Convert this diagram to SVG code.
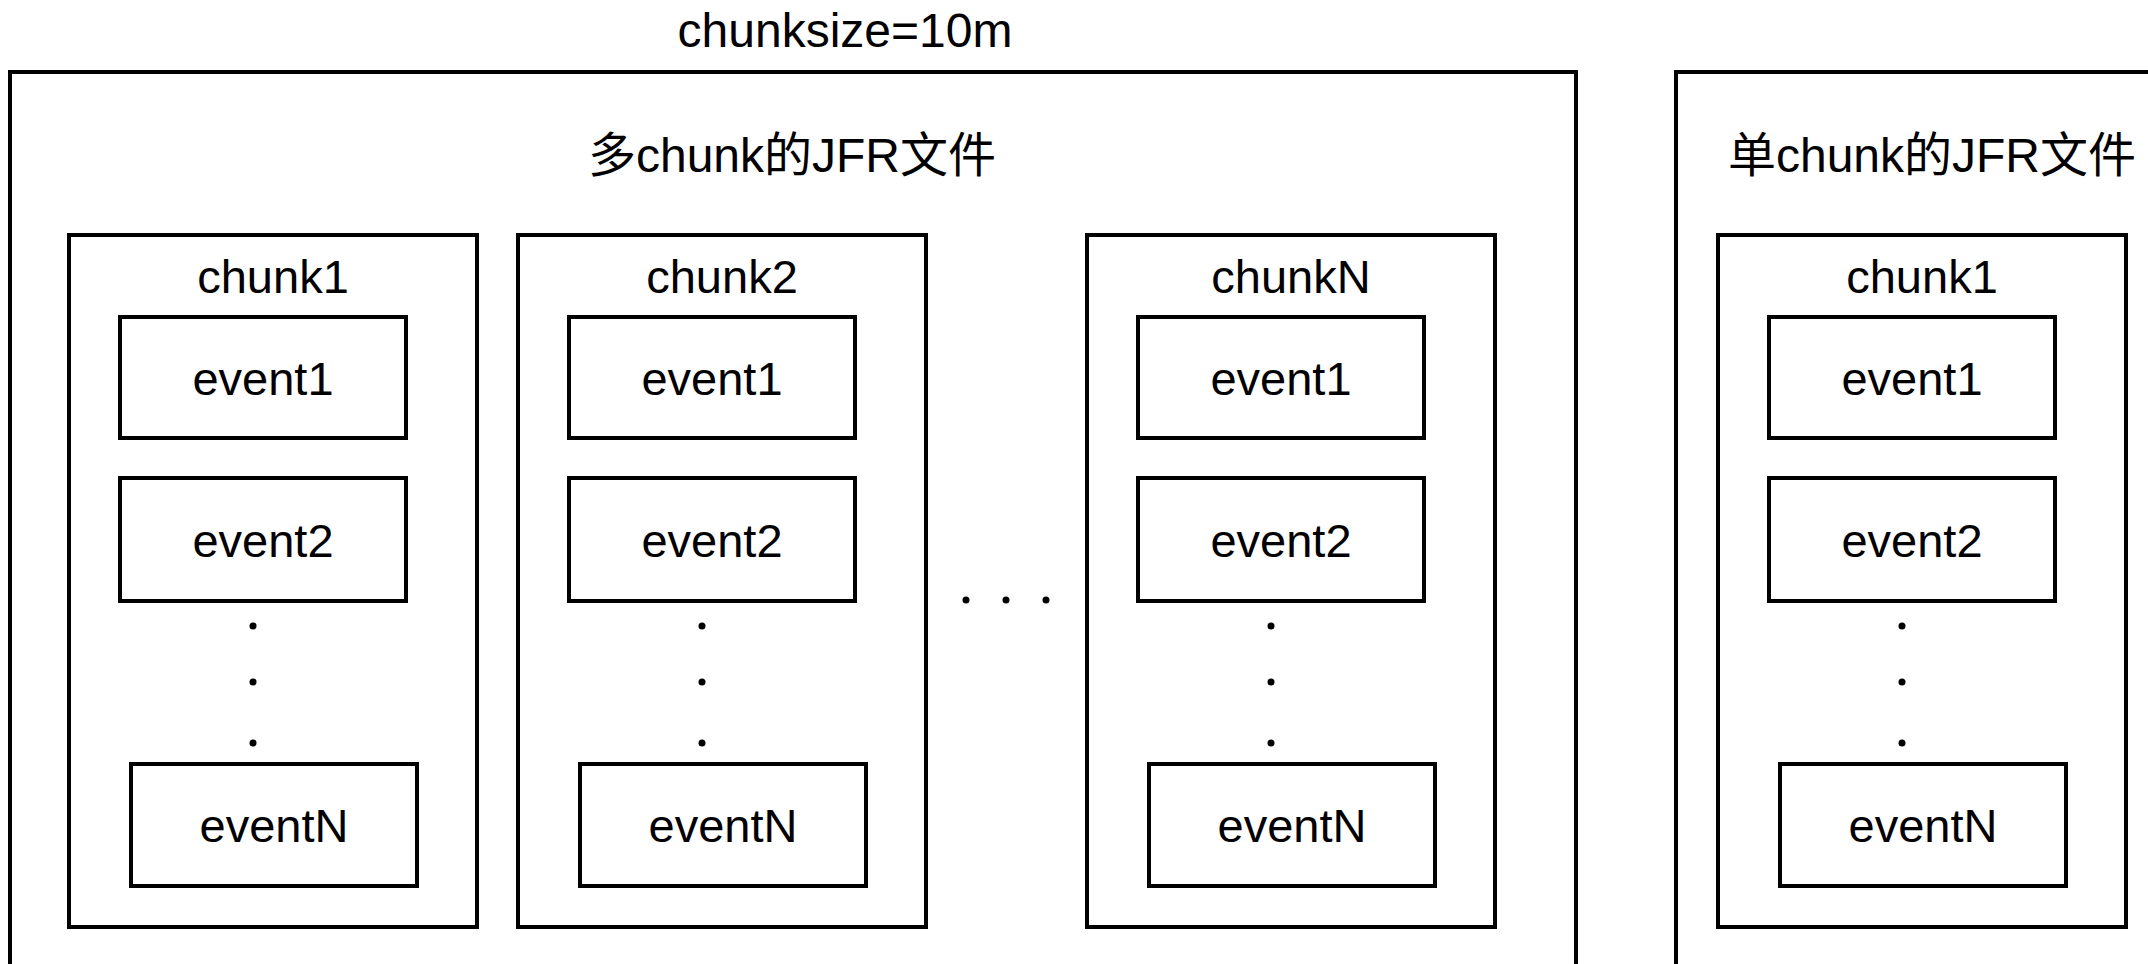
<svg xmlns="http://www.w3.org/2000/svg" width="2148" height="964" viewBox="0 0 2148 964">
  <style>
    .box { fill: #ffffff; stroke: #000000; stroke-width: 4; }
    .lbl { font-family: "Liberation Sans", Arial, "Noto Sans CJK SC", sans-serif; font-size: 47px; fill: #000000; text-anchor: middle; }
    .ttl { font-family: "Liberation Sans", Arial, "Noto Sans CJK SC", sans-serif; font-size: 48px; fill: #000000; text-anchor: middle; }
    .dot { fill: #000000; }
  </style>
  <defs>
    <!-- one chunk: frame, title, two events, ellipsis dots, last event -->
    <g id="chunkBody">
      <rect class="box" x="0" y="0" width="408" height="692"/>
      <rect class="box" x="51" y="82" width="286" height="121"/>
      <text class="lbl" x="194" y="160">event1</text>
      <rect class="box" x="51" y="243" width="286" height="123"/>
      <text class="lbl" x="194" y="322">event2</text>
      <circle class="dot" cx="184" cy="391" r="3.5"/>
      <circle class="dot" cx="184" cy="447" r="3.5"/>
      <circle class="dot" cx="184" cy="508" r="3.5"/>
      <rect class="box" x="62" y="529" width="286" height="122"/>
      <text class="lbl" x="205" y="607">eventN</text>
    </g>
  </defs>
  <rect x="0" y="0" width="2148" height="964" fill="#ffffff"/>

  <text id="chunksize" class="ttl" x="845" y="47">chunksize=10m</text>

  <g id="multi-chunk-file">
    <rect class="box" x="10" y="72" width="1566" height="940"/>
    <text class="ttl" x="792" y="172">多chunk的JFR文件</text>
  </g>

  <g id="single-chunk-file">
    <rect class="box" x="1676" y="72" width="560" height="940"/>
    <text class="ttl" x="1932" y="172">单chunk的JFR文件</text>
  </g>

  <g id="multi-chunk1" transform="translate(69,235)">
    <use href="#chunkBody"/>
    <text class="lbl" x="204" y="58">chunk1</text>
  </g>

  <g id="multi-chunk2" transform="translate(518,235)">
    <use href="#chunkBody"/>
    <text class="lbl" x="204" y="58">chunk2</text>
  </g>

  <g id="multi-chunk-gap">
    <circle class="dot" cx="966" cy="600" r="3.5"/>
    <circle class="dot" cx="1006" cy="600" r="3.5"/>
    <circle class="dot" cx="1046" cy="600" r="3.5"/>
  </g>

  <g id="multi-chunkN" transform="translate(1087,235)">
    <use href="#chunkBody"/>
    <text class="lbl" x="204" y="58">chunkN</text>
  </g>

  <g id="single-chunk1" transform="translate(1718,235)">
    <use href="#chunkBody"/>
    <text class="lbl" x="204" y="58">chunk1</text>
  </g>
</svg>
